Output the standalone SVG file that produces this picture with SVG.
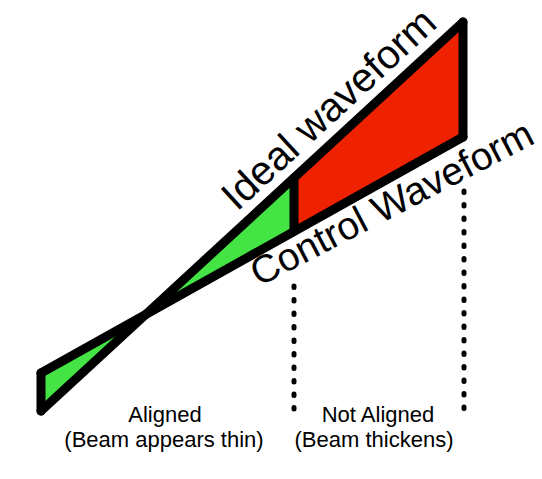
<svg xmlns="http://www.w3.org/2000/svg" width="542" height="479" viewBox="0 0 542 479">
<style>
.edge{stroke:#000;stroke-width:9;fill:none;stroke-linecap:round;stroke-linejoin:round}
.dot{stroke:#000;stroke-width:5;fill:none;stroke-linecap:round;stroke-dasharray:1.5 12}
.big{font-family:"Liberation Sans",Arial,sans-serif;font-size:40px;fill:#000}
.lbl{font-family:"Liberation Sans",Arial,sans-serif;font-size:22px;fill:#000;text-anchor:middle}
</style>
<rect width="542" height="479" fill="#fff"/>
<g id="aligned-region">
<polygon points="41,373 41,411 146,314" fill="#44e444"/>
<polygon points="146,314 294,178 294,231" fill="#44e444"/>
</g>
<g id="not-aligned-region">
<polygon points="294,178 463,22 463,137 294,231" fill="#ee2200"/>
</g>
<g id="connectors">
<line class="edge" x1="41" y1="411" x2="463" y2="22"/>
<line class="edge" x1="41" y1="373" x2="463" y2="137"/>
<line class="edge" x1="41" y1="373" x2="41" y2="411"/>
<line class="edge" x1="294" y1="178" x2="294" y2="231"/>
<line class="edge" x1="463" y1="22" x2="463" y2="137"/>
<line class="dot" x1="294" y1="286" x2="294" y2="410"/>
<line class="dot" x1="464" y1="191" x2="464" y2="412"/>
</g>
<g id="ideal-label">
<text class="big" style="font-size:40.5px" transform="translate(237,212) rotate(-42.7)">Ideal waveform</text>
</g>
<g id="control-label">
<text class="big" style="font-size:39px" transform="translate(259,287) rotate(-27.5)">Control Waveform</text>
</g>
<g id="aligned-label">
<text class="lbl" x="165" y="422">Aligned</text>
<text class="lbl" x="164" y="447">(Beam appears thin)</text>
</g>
<g id="not-aligned-label">
<text class="lbl" x="378" y="422">Not Aligned</text>
<text class="lbl" x="374" y="447">(Beam thickens)</text>
</g>
</svg>
